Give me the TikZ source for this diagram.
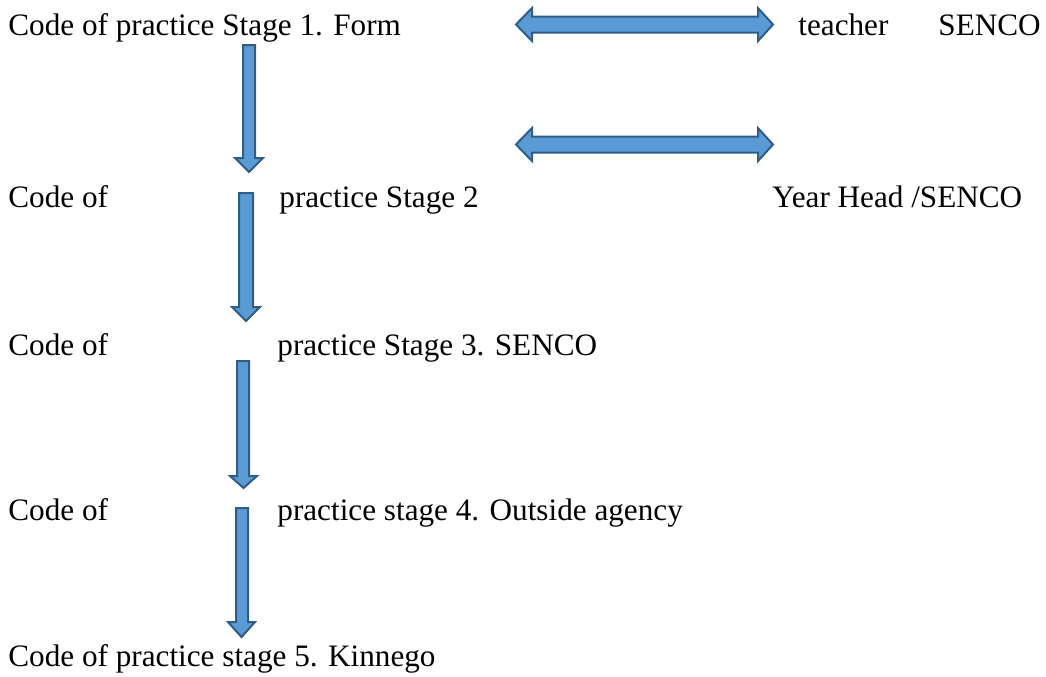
\documentclass[tikz,border=0pt]{standalone}
\usepackage{fontspec}
\setmainfont{Liberation Serif}
\usepackage{xcolor}
\definecolor{arrowFill}{HTML}{5B9BD5}
\definecolor{arrowEdge}{HTML}{2F5D87}

\begin{document}
\begin{tikzpicture}[x=0.5pt, y=-0.5pt,
    stage/.style={anchor=base west, inner sep=0pt, font=\fontsize{15.6}{18}\selectfont},
    blockarrow/.style={fill=arrowFill, draw=arrowEdge, line width=1pt, line join=miter}]
  \useasboundingbox (0,0) rectangle (1046,676);
  % stage texts
  \node[stage] (s1) at (8,35) {Code of practice Stage 1. Form};
  \node[stage] (t1) at (798,35) {teacher};
  \node[stage] (t2) at (938,35) {SENCO};
  \node[stage] (s2a) at (8,207) {Code of};
  \node[stage] (s2b) at (279,207) {practice Stage 2};
  \node[stage] (y2) at (772,207) {Year Head /SENCO};
  \node[stage] (s3a) at (8,355) {Code of};
  \node[stage] (s3b) at (277,355) {practice Stage 3. SENCO};
  \node[stage] (s4a) at (8,520) {Code of};
  \node[stage] (s4b) at (277,520) {practice stage 4. Outside agency};
  \node[stage] (s5) at (8,666) {Code of practice stage 5. Kinnego};
  % down arrows
  \filldraw[blockarrow] (243,45) -- (255,45) -- (255,158) -- (263,158) -- (249,172) -- (235,158) -- (243,158) -- cycle;
  \filldraw[blockarrow] (239,193) -- (253,193) -- (253,307) -- (260,307) -- (246,321) -- (232,307) -- (239,307) -- cycle;
  \filldraw[blockarrow] (237,361) -- (249,361) -- (249,476) -- (257,476) -- (243.5,488) -- (230,476) -- (237,476) -- cycle;
  \filldraw[blockarrow] (236,508) -- (248,508) -- (248,622) -- (255,622) -- (241.5,637) -- (228,622) -- (236,622) -- cycle;
  % double arrows
  \filldraw[blockarrow] (516,24.5) -- (532,8) -- (532,16.5) -- (758,16.5) -- (758,8) -- (773,24.5) -- (758,41) -- (758,32.5) -- (532,32.5) -- (532,41) -- cycle;
  \filldraw[blockarrow] (516,144.5) -- (532,128) -- (532,136.5) -- (758,136.5) -- (758,128) -- (773,144.5) -- (758,161) -- (758,152.5) -- (532,152.5) -- (532,161) -- cycle;
\end{tikzpicture}
\end{document}
